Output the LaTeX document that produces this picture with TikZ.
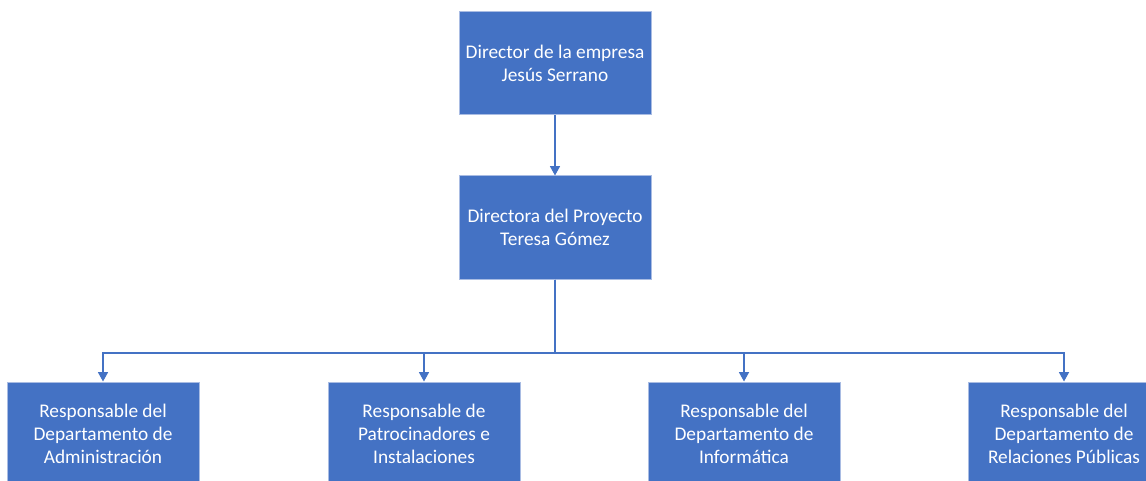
\documentclass[tikz,border=0pt]{standalone}
\usepackage{fontspec}
\setmainfont{Carlito}
\usetikzlibrary{arrows.meta}
\definecolor{boxblue}{HTML}{4472C4}
\definecolor{boxedge}{HTML}{A9BCE3}
\begin{document}
\begin{tikzpicture}[x=0.75pt,y=-0.75pt,
  orgbox/.style={rectangle, fill=boxblue, draw=boxedge, line width=0.75pt,
    minimum width=144pt, minimum height=77.25pt, inner sep=0pt,
    text=white, align=center, font=\fontsize{14.5pt}{17.3pt}\selectfont},
  link/.style={draw=boxblue, line width=1pt, -{Triangle[width=7.5pt,length=7pt]}}]
\useasboundingbox (0,0) rectangle (1146,481);
\node[orgbox] (dir) at (555,63.5) {Director de la empresa\\Jesús Serrano};
\node[orgbox] (proj) at (555,227.5) {Directora del Proyecto\\Teresa Gómez};
\node[orgbox] (r1) at (103,433.5) {Responsable del\\Departamento de\\Administración};
\node[orgbox] (r2) at (424,433.5) {Responsable de\\Patrocinadores e\\Instalaciones};
\node[orgbox] (r3) at (744,433.5) {Responsable del\\Departamento de\\Informática};
\node[orgbox] (r4) at (1064,433.5) {Responsable del\\Departamento de\\Relaciones Públicas};
\coordinate (bus) at (555,353);
\draw[link] (dir) -- (proj);
\foreach \r in {r1,r2,r3,r4}{
  \draw[link] (proj.south) |- (bus) -| (\r.north);
}
\end{tikzpicture}
\end{document}
